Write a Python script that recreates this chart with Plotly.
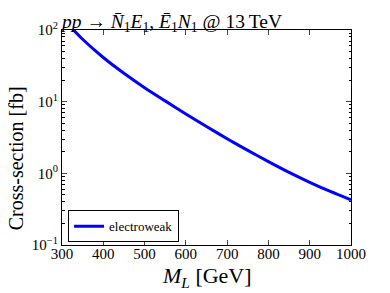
import plotly.graph_objects as go

mass_gev = [300, 350, 400, 450, 500, 550, 600, 650, 700, 750, 800, 850, 900, 950, 1000]
xsec_fb = [148, 74.3, 41.3, 24.9, 15.7, 10.26, 6.75, 4.50, 3.04, 2.09, 1.455, 1.03, 0.750, 0.558, 0.426]
series_name = "electroweak"
x_ticks = [300, 400, 500, 600, 700, 800, 900, 1000]
y_tickvals = [0.1, 1, 10, 100]
y_ticktext = ["10<sup>\u22121</sup>", "10<sup>0</sup>", "10<sup>1</sup>", "10<sup>2</sup>"]

minor_y = []
for d in [0.1, 1, 10]:
    for k in range(2, 10):
        minor_y.append(k * d)

serif = "Liberation Serif, Times New Roman, serif"

fig = go.Figure()
fig.add_trace(go.Scatter(x=mass_gev, y=xsec_fb, mode="lines", name=series_name,
                         line=dict(color="#0000ff", width=3, shape="spline", smoothing=0.8)))

# page body has an 8px default margin, so the figure is 8px smaller than the window
fig.update_layout(
    width=382, height=285,
    margin=dict(l=54, r=39, t=22, b=48, autoexpand=False),
    paper_bgcolor="white", plot_bgcolor="white",
    font=dict(family=serif, color="black", size=14),
    title=dict(text="<i>pp</i> \u2192 <i>N\u0304</i><sub>1</sub><i>E</i><sub>1</sub>, <i>E\u0304</i><sub>1</sub><i>N</i><sub>1</sub> @ 13\u2009TeV",
               x=54/382, xanchor="left", y=0.955, yanchor="middle",
               font=dict(family=serif, size=19.5, color="black")),
    showlegend=True,
    legend=dict(x=0.021, y=0.012, xanchor="left", yanchor="bottom",
                bordercolor="black", borderwidth=1, bgcolor="white",
                font=dict(family=serif, size=13), itemwidth=30),
    annotations=[
        dict(text="<i>M</i><sub><i>L</i></sub> [GeV]", xref="paper", yref="paper",
             x=0.5, y=-0.15, xanchor="center", yanchor="middle", showarrow=False,
             font=dict(family=serif, size=22, color="black")),
        dict(text="Cross-section [fb]", xref="paper", yref="paper", textangle=-90,
             x=-0.158, y=0.405, xanchor="center", yanchor="middle", showarrow=False,
             font=dict(family=serif, size=20, color="black")),
    ],
)
fig.update_xaxes(range=[300, 1000], tickvals=x_ticks, ticks="inside", ticklen=5,
                 showline=True, linecolor="black", linewidth=1, mirror="allticks",
                 showgrid=False, zeroline=False, tickfont=dict(size=15),
                 automargin=False, ticklabelstandoff=-5)
fig.update_yaxes(type="log", range=[-1, 2], tickvals=y_tickvals, ticktext=y_ticktext,
                 ticks="inside", ticklen=5, showline=True, linecolor="black", linewidth=1,
                 mirror="allticks", showgrid=False, zeroline=False, tickfont=dict(size=15),
                 automargin=False,
                 minor=dict(tickmode="array", tickvals=minor_y, ticks="inside", ticklen=2.5,
                            tickcolor="black", showgrid=False))

fig.write_html("out.html")
